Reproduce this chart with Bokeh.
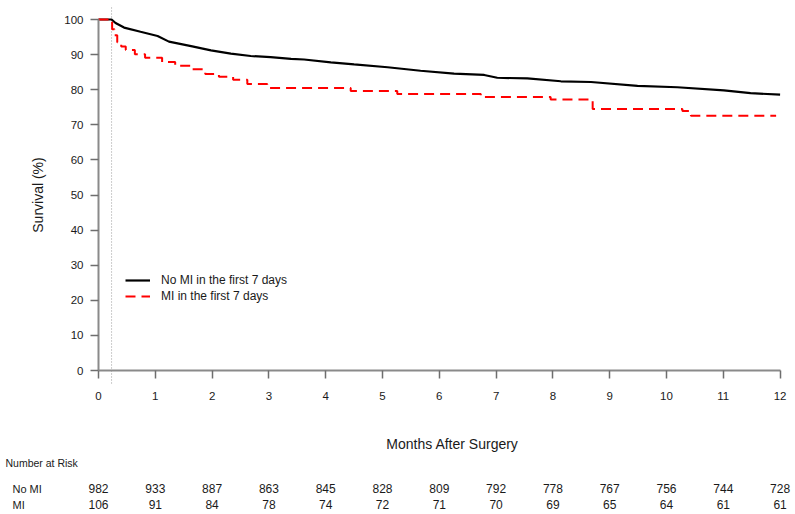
from bokeh.plotting import figure
from bokeh.models import FixedTicker, Range1d
from bokeh.core.properties import value
from bokeh.embed import file_html
from bokeh.resources import INLINE

# ---- data ----
months = list(range(13))
y_ticks = list(range(0, 101, 10))

no_mi_time = [0, 0.23, 0.30, 0.45, 0.74, 1.04, 1.24, 1.63, 1.98, 2.33, 2.68, 3.03, 3.39,
              3.62, 4.09, 4.50, 5.09, 5.67, 6.26, 6.79, 7.02, 7.55, 8.14, 8.67, 9.49,
              10.19, 11.01, 11.48, 12.0]
no_mi_surv = [100, 100, 99.0, 97.7, 96.5, 95.3, 93.7, 92.4, 91.2, 90.3, 89.6, 89.3, 88.8,
              88.6, 87.8, 87.2, 86.4, 85.4, 84.6, 84.2, 83.4, 83.2, 82.4, 82.2, 81.1,
              80.7, 79.8, 79.0, 78.6]

mi_time = [0, 0.24, 0.28, 0.33, 0.40, 0.48, 0.64, 0.82, 1.12, 1.35, 1.64, 1.88, 2.12,
           2.37, 2.62, 2.97, 4.44, 5.26, 6.73, 7.96, 8.70, 10.28, 10.43, 11.93]
mi_surv = [100, 97.2, 95.5, 93.5, 92.3, 91.3, 90.1, 89.1, 87.9, 86.8, 85.8, 84.5, 83.7,
           82.8, 81.6, 80.5, 79.6, 78.8, 77.9, 77.2, 74.5, 73.9, 72.6, 72.6]

risk_rows = ["No MI", "MI"]
risk_no_mi = [982, 933, 887, 863, 845, 828, 809, 792, 778, 767, 756, 744, 728]
risk_mi = [106, 91, 84, 78, 74, 72, 71, 70, 69, 65, 64, 61, 61]

mi_window_months = 0.23          # first 7 days
marker_extent = (-3.7, 104.0)    # vertical extent of the dotted 7-day line

FONT = "Liberation Sans"
TXT = "#1a1a1a"
AXIS = "#8a8a8a"
W, H = 795, 514
PX_X = 56.8     # px per month
PX_Y = 3.51     # px per % point
X0, Y0 = 98, 370  # pixel of (0 months, 0 %)

p = figure(width=W, height=H, output_backend="svg", toolbar_location=None, title=None,
           x_range=Range1d(-X0 / PX_X, (W - X0) / PX_X),
           y_range=Range1d(-(H - Y0) / PX_Y, Y0 / PX_Y),
           min_border_left=0, min_border_right=0, min_border_top=0, min_border_bottom=0)
p.outline_line_color = None
p.xgrid.visible = False
p.ygrid.visible = False

for ax, ticks, bounds in ((p.xaxis[0], months, (0, 12)), (p.yaxis[0], y_ticks, (0, 100))):
    ax.fixed_location = 0
    ax.bounds = bounds
    ax.ticker = FixedTicker(ticks=ticks)
    ax.axis_line_color = AXIS
    ax.axis_line_width = 2
    ax.major_tick_line_color = "#6e6e6e"
    ax.major_tick_line_width = 1.5
    ax.major_tick_out = 8
    ax.major_tick_in = 0
    ax.minor_tick_line_color = None
    ax.major_label_text_font = FONT
    ax.major_label_text_font_size = "11.5px"
    ax.major_label_text_color = TXT

p.xaxis.major_label_standoff = 13
p.yaxis.major_label_standoff = 7
p.yaxis.axis_label = "Survival (%)"
p.yaxis.axis_label_text_font = FONT
p.yaxis.axis_label_text_font_size = "14px"
p.yaxis.axis_label_text_font_style = "normal"
p.yaxis.axis_label_text_color = TXT
p.yaxis.axis_label_standoff = 15

# dotted 7-day marker
p.segment(x0=[mi_window_months], y0=[marker_extent[0]], x1=[mi_window_months],
          y1=[marker_extent[1]], line_color="#9a9a9a", line_width=1, line_dash="1 2")

p.line(no_mi_time, no_mi_surv, line_color="black", line_width=2.2,
       legend_label="No MI in the first 7 days")
p.step(mi_time, mi_surv, mode="after", line_color="#ff0000", line_width=2,
       line_dash="10 6", legend_label="MI in the first 7 days")

lg = p.legend[0]
lg.location = (125, 210)
lg.padding = 0
lg.margin = 0
lg.spacing = 0
lg.label_height = 16
lg.glyph_height = 16
lg.glyph_width = 25
lg.label_standoff = 11
lg.label_text_font = FONT
lg.label_text_font_size = "12px"
lg.label_text_color = TXT
lg.background_fill_alpha = 0
lg.border_line_alpha = 0

# x title and number-at-risk table (placed in data space below the axis)
title_y = -(443 - Y0) / PX_Y
nar_y = -(462 - Y0) / PX_Y
row_y = [-(488 - Y0) / PX_Y, -(504 - Y0) / PX_Y]

p.text(x=[(452 - X0) / PX_X], y=[title_y], text=["Months After Surgery"],
       text_align="center", text_baseline="middle", text_font=value(FONT),
       text_font_size="14px", text_color=TXT)
p.text(x=[(5 - X0) / PX_X], y=[nar_y], text=["Number at Risk"], text_align="left",
       text_baseline="middle", text_font=value(FONT), text_font_size="10.5px",
       text_color=TXT)
p.text(x=[(12 - X0) / PX_X] * 2, y=row_y, text=risk_rows, text_align="left",
       text_baseline="middle", text_font=value(FONT), text_font_size="11px",
       text_color=TXT)
for vals, yy in ((risk_no_mi, row_y[0]), (risk_mi, row_y[1])):
    p.text(x=months, y=[yy] * len(months), text=[str(v) for v in vals],
           text_align="center", text_baseline="middle", text_font=value(FONT),
           text_font_size="12px", text_color=TXT)

open("out.html", "w").write(file_html(p, INLINE))
